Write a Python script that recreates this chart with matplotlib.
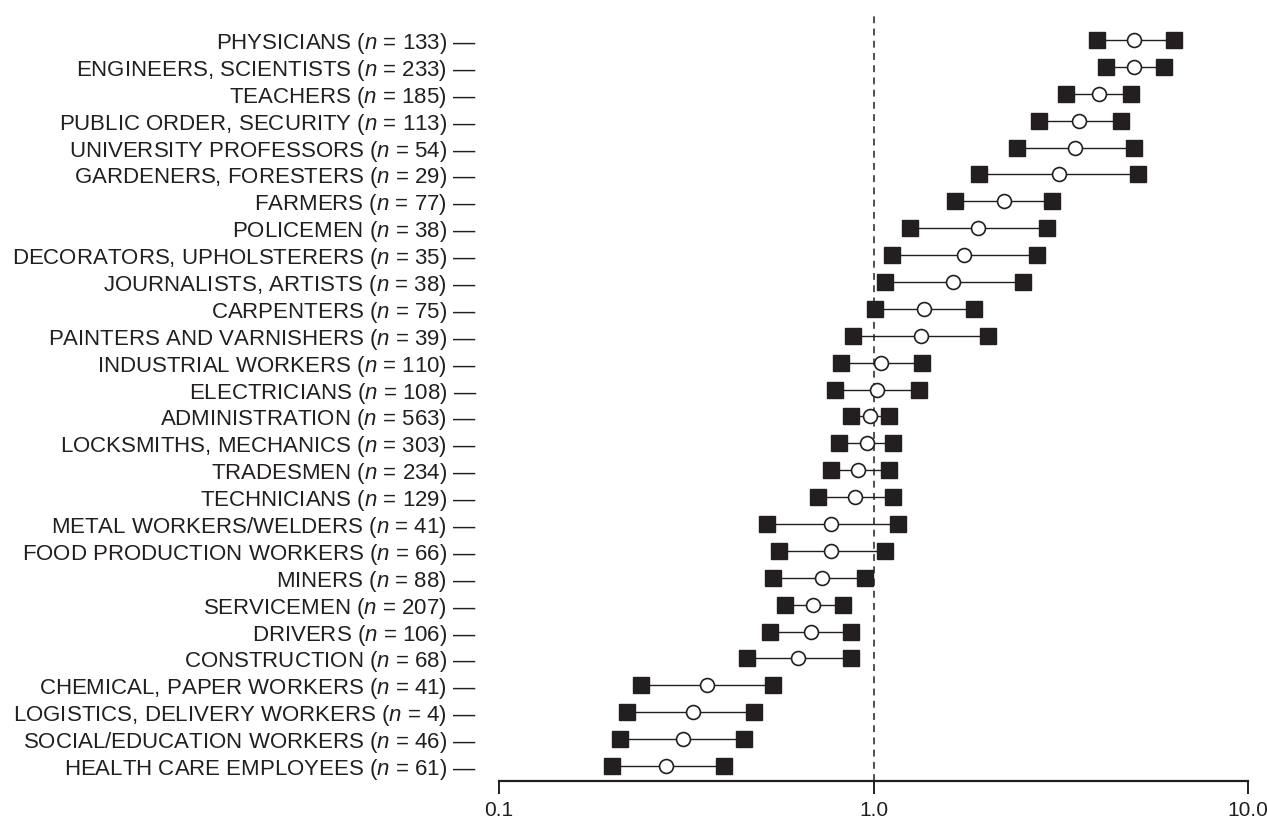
import matplotlib
matplotlib.use("Agg")
import matplotlib.pyplot as plt
import numpy as np

plt.rcParams['font.family'] = ['Liberation Sans', 'DejaVu Sans']
plt.rcParams['mathtext.fontset'] = 'custom'
plt.rcParams['mathtext.it'] = 'Liberation Sans:italic'
plt.rcParams['mathtext.rm'] = 'Liberation Sans'

categories = [
    "PHYSICIANS", "ENGINEERS, SCIENTISTS", "TEACHERS", "PUBLIC ORDER, SECURITY",
    "UNIVERSITY PROFESSORS", "GARDENERS, FORESTERS", "FARMERS", "POLICEMEN",
    "DECORATORS, UPHOLSTERERS", "JOURNALISTS, ARTISTS", "CARPENTERS",
    "PAINTERS AND VARNISHERS", "INDUSTRIAL WORKERS", "ELECTRICIANS",
    "ADMINISTRATION", "LOCKSMITHS, MECHANICS", "TRADESMEN", "TECHNICIANS",
    "METAL WORKERS/WELDERS", "FOOD PRODUCTION WORKERS", "MINERS", "SERVICEMEN",
    "DRIVERS", "CONSTRUCTION", "CHEMICAL, PAPER WORKERS",
    "LOGISTICS, DELIVERY WORKERS", "SOCIAL/EDUCATION WORKERS",
    "HEALTH CARE EMPLOYEES",
]
n_values = [133, 233, 185, 113, 54, 29, 77, 38, 35, 38, 75, 39, 110, 108, 563,
            303, 234, 129, 41, 66, 88, 207, 106, 68, 41, 4, 46, 61]
estimate = [4.96, 4.96, 4.00, 3.54, 3.45, 3.13, 2.23, 1.90, 1.74, 1.63, 1.36,
            1.34, 1.05, 1.02, 0.98, 0.96, 0.91, 0.89, 0.77, 0.77, 0.73, 0.69,
            0.68, 0.63, 0.36, 0.33, 0.31, 0.28]
lower = [3.95, 4.18, 3.27, 2.77, 2.42, 1.91, 1.65, 1.25, 1.12, 1.07, 1.01,
         0.88, 0.82, 0.79, 0.87, 0.81, 0.77, 0.71, 0.52, 0.56, 0.54, 0.58,
         0.53, 0.46, 0.24, 0.22, 0.21, 0.20]
upper = [6.34, 5.97, 4.87, 4.58, 4.96, 5.09, 3.00, 2.91, 2.73, 2.51, 1.85,
         2.02, 1.35, 1.32, 1.10, 1.13, 1.10, 1.13, 1.16, 1.07, 0.95, 0.83,
         0.87, 0.87, 0.54, 0.48, 0.45, 0.40]
xticks = [0.1, 1.0, 10.0]
xtick_labels = ["0.1", "1.0", "10.0"]

W, H = 1267, 823
fig = plt.figure(figsize=(W / 100, H / 100), dpi=100)
ax = fig.add_axes([499 / W, 1 - 781 / H, (1248 - 499) / W, (781 - 11) / H])

dark = "#231f20"
y = np.arange(len(categories))
for i in range(len(categories)):
    ax.plot([lower[i], upper[i]], [y[i], y[i]], color=dark, lw=1.0, zorder=2)
ax.plot(lower, y, 's', ms=11.5, mfc=dark, mec=dark, zorder=3, ls='none')
ax.plot(upper, y, 's', ms=11.5, mfc=dark, mec=dark, zorder=3, ls='none')
ax.plot(estimate, y, 'o', ms=10, mfc='white', mec=dark, mew=1.2, zorder=4, ls='none')

ax.axvline(1.0, color=dark, lw=1.1, ls=(0, (4.5, 3.5)), zorder=1)

ax.set_xscale('log')
ax.set_xlim(0.1, 10.0)
ax.set_ylim(len(categories) - 1 + 0.56, -1.08)

ax.set_xticks(xticks)
ax.set_xticklabels(xtick_labels)
ax.xaxis.set_minor_locator(matplotlib.ticker.NullLocator())
ax.tick_params(axis='x', direction='out', length=9.4, width=1.4, labelsize=15,
               pad=5, color=dark, labelcolor=dark)

labels = [f"{c} ($n$ = {n}) —" for c, n in zip(categories, n_values)]
ax.set_yticks(y)
ax.set_yticklabels(labels)
ax.tick_params(axis='y', length=0, pad=16, labelsize=16, labelcolor=dark)

for s in ['top', 'right', 'left']:
    ax.spines[s].set_visible(False)
ax.spines['bottom'].set_linewidth(1.6)
ax.spines['bottom'].set_color(dark)

fig.savefig("out.png", dpi=100)
